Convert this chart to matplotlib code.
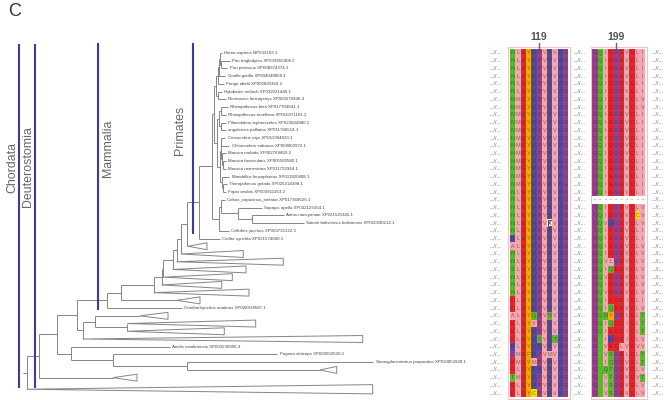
import matplotlib
matplotlib.use("Agg")
import matplotlib.pyplot as plt
from matplotlib.collections import LineCollection
from matplotlib.patches import Rectangle, Polygon

plt.rcParams["font.family"] = ["Liberation Sans", "DejaVu Sans"]

# ---------------- data ----------------
# tip labels, in tree (row) order; collapsed clades carry no label
leaf_labels = [
    "Homo sapiens NP003163.1",
    "Pan troglodytes XP009455908.2",
    "Pan paniscus XP008974274.1",
    "Gorilla gorilla XP004048858.1",
    "Pongo abelii XP002820360.3",
    "Hylobates moloch XP032021440.1",
    "Nomascus leucogenys XP003276846.3",
    "Rhinopithecus bieti XP017704641.1",
    "Rhinopithecus roxellana XP010371101.2",
    "Piliocolobus tephrosceles XP023044880.1",
    "angolensis palliatus XP011786514.1",
    "Cercocebus atys XP011904023.1",
    "Chlorocebus sabaeus XP008003972.1",
    "Macaca mulatta XP002769869.2",
    "Macaca fascicularis XP005580580.1",
    "Macaca nemestrina XP011722944.1",
    "Mandrillus leucophaeus XP011820808.1",
    "Theropithecus gelada XP025214398.1",
    "Papio anubis XP003911163.3",
    "Cebus_capucinus_imitator XP017368626.1",
    "Sapajus apella XP032129154.1",
    "Aotus nancymaae XP021525345.1",
    "Saimiri boliviensis boliviensis XP010330212.1",
    "Callithrix jacchus XP003732122.3",
    "Carlito syrichta XP021574600.1",
    "Ornithorhynchus anatinus XP028918587.1",
    "Anolis carolinensis XP003230906.3",
    "Pogona vitticeps XP020650630.1",
    "Strongylocentrotus purpuratus XP030853928.1",
]

# tree: ("node", branch, children) / ("leaf", branch) / ("clade", stem, triangle, rows)
apes = ("node", 2.5, [
    ("node", 1.5, [
        ("node", 1.0, [
            ("node", 1.0, [("leaf", 2.5),
                           ("node", 1.5, [("leaf", 9.0), ("leaf", 6.0)])]),
            ("leaf", 6.5)]),
        ("leaf", 6.5)]),
    ("node", 2.0, [("leaf", 4.0), ("leaf", 8.0)]),
])
old_world = ("node", 3.0, [
    ("node", 2.5, [("node", 2.0, [("leaf", 7.0), ("leaf", 5.0)]),
                   ("node", 2.0, [("leaf", 5.0), ("leaf", 5.0)])]),
    ("node", 3.0, [
        ("node", 1.0, [("node", 0.5, [("leaf", 4.0), ("leaf", 8.0)]),
                       ("node", 1.5, [("leaf", 3.5),
                                      ("node", 1.0, [("leaf", 3.0), ("leaf", 3.0)])])]),
        ("node", 2.0, [("leaf", 7.5),
                       ("node", 1.5, [("leaf", 3.5), ("leaf", 3.0)])]),
    ]),
])
new_world = ("node", 7.6, [
    ("node", 1.7, [("leaf", 4.0),
                   ("node", 17.0, [("leaf", 24.0),
                                   ("node", 13.7, [("leaf", 32.3), ("leaf", 52.3)])])]),
    ("leaf", 9.7),
])
primates = ("node", 5.7, [
    ("node", 12.6, [("node", 12.4, [("node", 1.8, [apes, old_world]), new_world]),
                    ("leaf", 20.7)]),
    ("clade", 1.3, 19.0, 1),
])
mammals = ("node", 30.0, [
    ("node", 14.0, [
        ("node", 33.3, [
            ("node", 7.7, [
                ("node", 1.6, [
                    ("node", 9.4, [
                        ("node", 4.0, [
                            ("node", 4.3, [primates, ("clade", 0, 62.3, 1)]),
                            ("clade", 0, 106.6, 1)]),
                        ("clade", 0, 73.3, 1)]),
                    ("clade", 0, 69.0, 1)]),
                ("clade", 0, 60.0, 1)]),
            ("clade", 0, 95.0, 1)]),
        ("clade", 56.0, 23.3, 1)]),
    ("leaf", 75.0),
])
tree = ("node", 3.4, [
    ("node", 12.6, [
        ("node", 17.4, [
            ("node", 20.0, [
                mammals,
                ("node", 6.0, [
                    ("node", 12.3, [("clade", 45.0, 28.0, 1),
                                    ("node", 32.3, [("clade", 0, 128.4, 1),
                                                    ("clade", 0, 97.0, 1)])]),
                    ("clade", 0, 280.0, 1)]),
            ]),
            ("node", 14.3, [
                ("leaf", 99.0),
                ("node", 42.0, [("leaf", 164.0),
                                ("node", 73.7, [("leaf", 186.3),
                                                ("clade", 133.3, 16.7, 1)])]),
            ]),
        ]),
        ("clade", 73.7, 24.0, 1),
    ]),
    ("clade", 0, 346.0, 2),
])

# alignment, one string per row
block1 = (["NLEYRPVKVRG"] * 6 + ["NMEYRPVKVKG"] * 12 + ["NLEYRPVKVRG"] * 4 + [
    "NLEYRPVXVRG", "NLEYRPVKVRG", "KLEYRPVKVRG", "ALEYRPVKVRG",
    "NLEYRPVKVRG", "NLEYRPVKVRG", "SLEYRPVKVRG", "NLEYRPVKVRG",
    "NLEYRPVKVRG", "NLEYRPVKVRG", "DLEYRPVKVRG", "DLEYRPVKVRG",
    "ALEYQPVNVRG", "ELEYVPVKVRG", "ELEYRPVKVRG", "ELEYRSVKTRG",
    "KLEYRRVKVRG", "GMEFRPVMVRG", "EMEYMPVHVRG", "ELEYKKVRVRG",
    "TMEYRPVKVRG", "ELEYRPVKVRG", "ELEYCPVKVKG",
])
block2 = (["GQIEGEVDLI"] * 4 + ["GQIEGEVELI"] * 2 + ["GQIEGEVDLV"] * 2
          + ["GQIEGEVDLI"] * 11 + [
    "----------", "GQIEGEVDLV", "GQIEGEVDCV", "GQVHGEVDLV",
    "GQIEGEVDLI", "GQIEGEVDLI", "GQIEGEVDLV", "GQIDGEVDLV",
    "GQVLGEVDLV", "GQIQEEVDLV", "GQVEGEVDLV", "GQIEGEVDLV",
    "GQVEGEVDLV", "GQIEDEIDLI", "GQIQEEVDLV", "GQNYGELELT",
    "GQIQDDIELT", "GQIEDEIDLT", "G_IHDEIDLV", "G_VEDLVEVV",
    "G_VSGELDLT", "G_IQGEVELT", "G_QTGEVDLV", "G_VTGEVEVT",
    "G_VSGEVELV", "G_VSGEVELV",
])
site_labels = ["119", "199"]
site_cols = [5, 4]

clade_names = ["Chordata", "Deuterostomia", "Mammalia", "Primates"]
clade_bar_x = [19.3, 35.0, 97.7, 193.3]
clade_bar_rows = [(-1.2, 43.4), (-1.2, 43.4), (-1.3, 33.2), (-1.25, 23.4)]
clade_text_x = [12.0, 27.7, 108.0, 180.0]
clade_text_row = [18.1, 19.9, 16.0, 13.2]

# residue colours
GREEN, PINK, RED = "#5db532", "#f5a6ae", "#e7232b"
ORANGE, BLUE, MAGENTA, YELLOW = "#f6a800", "#56499d", "#9c3e8e", "#f2e200"
colour_of = {}
for aa in "NQST_":
    colour_of[aa] = GREEN
for aa in "LIVMA":
    colour_of[aa] = PINK
for aa in "ED":
    colour_of[aa] = RED
for aa in "YFW":
    colour_of[aa] = ORANGE
for aa in "RKH":
    colour_of[aa] = BLUE
for aa in "GP":
    colour_of[aa] = MAGENTA
colour_of["C"] = YELLOW
colour_of["X"] = "white"
colour_of["-"] = "white"

# ---------------- layout ----------------
W, H, DPI = 669, 400, 100
ROW0, ROW_H = 53.0, 7.73            # px of first row centre, row pitch
ROOT_X = 23.3
TREE_W = 480
COL_W, BLOCK1_PX = 5.3, 510.0
BLOCK2_X = 15.53
TREE_GREY = "#858585"
BAR_BLUE = "#3b3b9b"

fig = plt.figure(figsize=(W / DPI, H / DPI), dpi=DPI)
ylim = ((H - ROW0) / ROW_H, -ROW0 / ROW_H)

ax = fig.add_axes([0, 0, TREE_W / W, 1])
ax.set_xlim(0, TREE_W)
ax.set_ylim(*ylim)
ax.axis("off")

segs, tris, tips = [], [], []
row_counter = [0]


def place(node, x0):
    kind = node[0]
    if kind == "leaf":
        y = row_counter[0]
        row_counter[0] += 1
        x1 = x0 + node[1]
        segs.append([(x0, y), (x1, y)])
        tips.append((x1, y))
        return y
    if kind == "clade":
        _, stem, tri, n = node
        y = row_counter[0] + (n - 1) / 2
        row_counter[0] += n
        xa = x0 + stem
        if stem:
            segs.append([(x0, y), (xa, y)])
        half = 0.45 + 0.15 * (n - 1)
        tris.append([(xa, y), (xa + tri, y - half), (xa + tri, y + half)])
        return y
    x1 = x0 + node[1]
    ys = [place(c, x1) for c in node[2]]
    y = (ys[0] + ys[-1]) / 2
    segs.append([(x1, ys[0]), (x1, ys[-1])])
    segs.append([(x0, y), (x1, y)])
    return y


place(tree, ROOT_X)

ax.add_collection(LineCollection(segs, colors=TREE_GREY, linewidths=0.7))
for t in tris:
    ax.add_patch(Polygon(t, closed=True, facecolor="white",
                         edgecolor=TREE_GREY, linewidth=0.7))
for (x, y), lab in zip(tips, leaf_labels):
    ax.text(x + 2.5, y, lab, fontsize=3.2, va="center", ha="left",
            color="#444444")

for x, (r0, r1) in zip(clade_bar_x, clade_bar_rows):
    ax.plot([x, x], [r0, r1], color=BAR_BLUE, lw=1.5, solid_capstyle="butt")
for name, x, r in zip(clade_names, clade_text_x, clade_text_row):
    ax.text(x, r, name, rotation=90, rotation_mode="anchor", ha="left",
            va="center", fontsize=8.9, color="#666666")

fig.text(8 / W, 1 - 12 / H, "C", fontsize=13, color="#333333",
         ha="left", va="center")

# ---------------- alignment ----------------
ax2 = fig.add_axes([TREE_W / W, 0, 1 - TREE_W / W, 1])
ax2.set_xlim((TREE_W - BLOCK1_PX) / COL_W, (W - BLOCK1_PX) / COL_W)
ax2.set_ylim(*ylim)
ax2.axis("off")

n_rows = len(block1)
for x0, seqs in ((0.0, block1), (BLOCK2_X, block2)):
    ncol = len(seqs[0])
    ax2.add_patch(Rectangle((x0 - 0.3, -0.75), ncol + 0.6, n_rows + 0.5,
                            facecolor="none", edgecolor="#f2c2c8", lw=0.8))
    for r, seq in enumerate(seqs):
        for c, aa in enumerate(seq):
            ax2.add_patch(Rectangle((x0 + c, r - 0.5), 1, 1,
                                    facecolor=colour_of[aa], edgecolor="none"))
            if aa == "X":
                ax2.add_patch(Rectangle((x0 + c + 0.08, r - 0.42), 0.84, 0.84,
                                        facecolor="white", edgecolor="black",
                                        lw=0.5))
                ax2.text(x0 + c + 0.5, r, aa, fontsize=4, ha="center",
                         va="center", color="black")
            elif aa == "-":
                ax2.text(x0 + c + 0.5, r, "-", fontsize=4.5, ha="center",
                         va="center", color="#555555")
            elif aa != "_":
                ax2.text(x0 + c + 0.5, r, aa, fontsize=4, ha="center",
                         va="center", color="#333333", alpha=0.6)

for x in (-2.7, 13.2, 27.9):
    for r in range(n_rows):
        ax2.text(x, r, "...//...", fontsize=3.8, ha="center", va="center",
                 color="#666666")

for x0, lab, col in zip((0.0, BLOCK2_X), site_labels, site_cols):
    xc = x0 + col + 0.5
    ax2.text(xc, -2.1, lab, fontsize=7.5, fontweight="bold", ha="center",
             va="center", color="#555555")
    ax2.plot([xc, xc], [-1.35, -0.55], color="#666666", lw=1.0)

fig.savefig("out.png", dpi=DPI)
